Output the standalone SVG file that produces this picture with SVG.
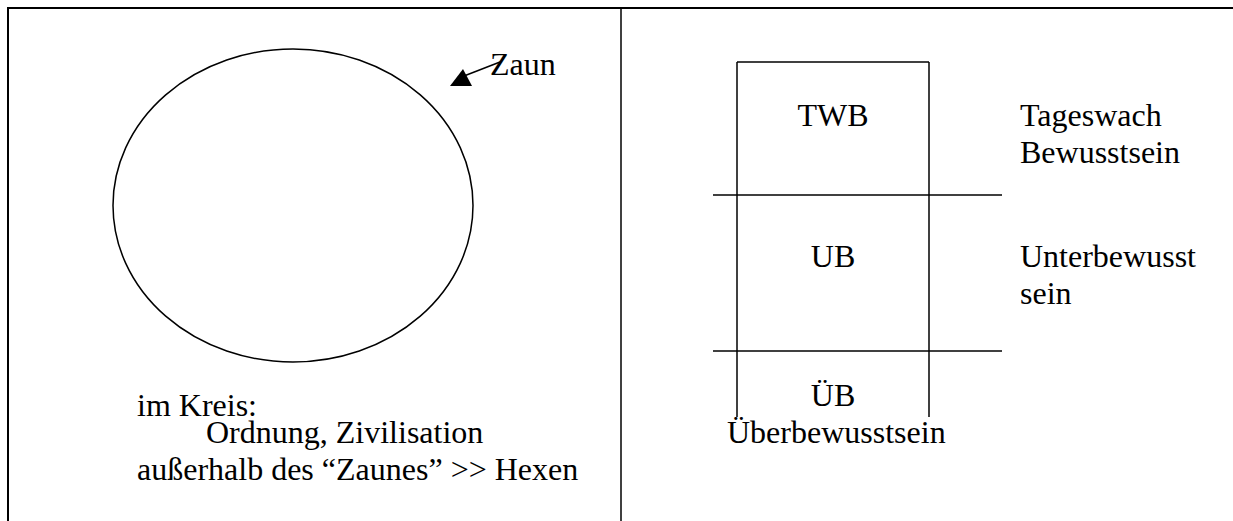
<svg xmlns="http://www.w3.org/2000/svg" width="1233" height="521" viewBox="0 0 1233 521">
<style>
.t{font-family:"Liberation Serif","Times New Roman",serif;font-size:32px;fill:#000}
.ln{stroke:#000;stroke-width:1.5;fill:none}
.frame{stroke:#000;stroke-width:2;fill:none}
</style>
<rect width="1233" height="521" fill="#fff"/>
<g id="frame">
<path class="frame" d="M8,521 V8 H1233"/>
<line class="ln" x1="621" y1="8" x2="621" y2="521"/>
</g>
<g id="fence">
<ellipse class="ln" cx="293" cy="205.5" rx="180" ry="156.5"/>
<text class="t" x="490" y="75">Zaun</text>
</g>
<g id="connectors">
<line class="ln" x1="464" y1="76" x2="500" y2="62"/>
<polygon points="450,86 472,86 463,69" fill="#000"/>
</g>
<g id="caption">
<text class="t" x="137" y="416">im Kreis:</text>
<text class="t" x="206" y="443">Ordnung, Zivilisation</text>
<text class="t" x="137" y="480">außerhalb des “Zaunes”  &gt;&gt; Hexen</text>
</g>
<g id="layers">
<line class="ln" x1="737" y1="62" x2="929" y2="62"/>
<line class="ln" x1="737" y1="62" x2="737" y2="417"/>
<line class="ln" x1="929" y1="62" x2="929" y2="417"/>
<line class="ln" x1="713" y1="195" x2="1002" y2="195"/>
<line class="ln" x1="713" y1="351" x2="1002" y2="351"/>
</g>
<g id="twb">
<text class="t" x="833" y="126" text-anchor="middle">TWB</text>
<text class="t" x="1020" y="126">Tageswach</text>
<text class="t" x="1020" y="163">Bewusstsein</text>
</g>
<g id="ub">
<text class="t" x="833" y="267" text-anchor="middle">UB</text>
<text class="t" x="1020" y="267">Unterbewusst</text>
<text class="t" x="1020" y="304">sein</text>
</g>
<g id="uebb">
<text class="t" x="833" y="406" text-anchor="middle">ÜB</text>
<text class="t" x="727" y="443">Überbewusstsein</text>
</g>
</svg>
